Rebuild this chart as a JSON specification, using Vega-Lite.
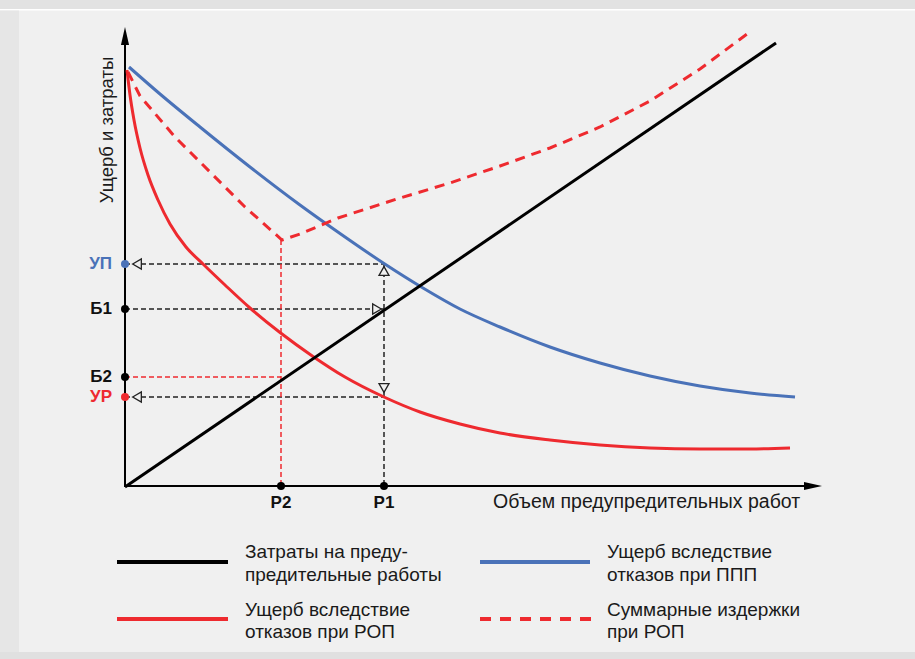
{
  "$schema": "https://vega.github.io/schema/vega-lite/v6.json",
  "width": 915,
  "height": 659,
  "padding": 0,
  "autosize": {"type": "none"},
  "background": "#f0f0f0",
  "config": {"view": {"stroke": null}},
  "datasets": {
    "frame": [
      {"part": "top", "x": -125, "x2": 790, "y": 478, "y2": 487},
      {"part": "topline", "x": -125, "x2": 790, "y": 476.5, "y2": 478},
      {"part": "left", "x": -125, "x2": -106, "y": -172, "y2": 476.5},
      {"part": "bottom", "x": -125, "x2": 790, "y": -172, "y2": -165}
    ],
    "cost": [{"x": 0, "y": 0}, {"x": 651, "y": 444}],
    "ppp": [
      {"x": 4, "y": 420}, {"x": 35, "y": 393}, {"x": 75, "y": 360}, {"x": 125, "y": 320},
      {"x": 175, "y": 282}, {"x": 215, "y": 253.5}, {"x": 259, "y": 223.5}, {"x": 298, "y": 199},
      {"x": 335, "y": 178}, {"x": 375, "y": 160}, {"x": 425, "y": 140}, {"x": 475, "y": 124},
      {"x": 525, "y": 111}, {"x": 575, "y": 101}, {"x": 625, "y": 94}, {"x": 670, "y": 90}
    ],
    "rop": [
      {"x": 2, "y": 417}, {"x": 5, "y": 392}, {"x": 9, "y": 367}, {"x": 15, "y": 339},
      {"x": 23, "y": 312}, {"x": 33, "y": 287}, {"x": 45, "y": 263}, {"x": 61, "y": 240},
      {"x": 78, "y": 223}, {"x": 100, "y": 202}, {"x": 125, "y": 179}, {"x": 155, "y": 154.5},
      {"x": 188, "y": 130.6}, {"x": 220, "y": 110}, {"x": 259, "y": 90}, {"x": 295, "y": 75},
      {"x": 335, "y": 63}, {"x": 375, "y": 54}, {"x": 425, "y": 47}, {"x": 475, "y": 42},
      {"x": 525, "y": 39}, {"x": 575, "y": 38}, {"x": 625, "y": 38}, {"x": 665, "y": 39}
    ],
    "total": [
      {"x": 3, "y": 415}, {"x": 15, "y": 391}, {"x": 50, "y": 350}, {"x": 85, "y": 315},
      {"x": 120, "y": 280}, {"x": 157, "y": 247}, {"x": 175, "y": 253}, {"x": 213, "y": 269},
      {"x": 275, "y": 289}, {"x": 325, "y": 304}, {"x": 375, "y": 321}, {"x": 425, "y": 339},
      {"x": 475, "y": 360}, {"x": 525, "y": 386}, {"x": 575, "y": 418}, {"x": 622, "y": 453}
    ],
    "guidesBlack": [
      {"name": "УП", "x": 0, "y": 223, "x2": 259, "y2": 223},
      {"name": "Б1", "x": 0, "y": 178, "x2": 259, "y2": 178},
      {"name": "УР", "x": 0, "y": 90, "x2": 259, "y2": 90},
      {"name": "P1", "x": 259, "y": 223, "x2": 259, "y2": 1}
    ],
    "guidesRed": [
      {"name": "Б2", "x": 0, "y": 110, "x2": 156, "y2": 110},
      {"name": "P2", "x": 156, "y": 247, "x2": 156, "y2": 1}
    ],
    "arrows": [
      {"dir": "triangle-left", "x": 12, "y": 223},
      {"dir": "triangle-left", "x": 12, "y": 90},
      {"dir": "triangle-right", "x": 252, "y": 178},
      {"dir": "triangle-up", "x": 259, "y": 216},
      {"dir": "triangle-down", "x": 259, "y": 99}
    ],
    "dotsBlack": [
      {"x": 0, "y": 178}, {"x": 0, "y": 110}, {"x": 156, "y": 1}, {"x": 259, "y": 1}
    ],
    "labelsY": [
      {"t": "УП", "x": -13, "y": 223, "c": "blue"},
      {"t": "Б1", "x": -13, "y": 178, "c": "black"},
      {"t": "Б2", "x": -13, "y": 110, "c": "black"},
      {"t": "УР", "x": -13, "y": 90, "c": "red"}
    ],
    "labelsX": [
      {"t": "P2", "x": 156, "y": -16},
      {"t": "P1", "x": 259, "y": -16}
    ],
    "legendText": [
      {"t": "Затраты на преду-", "x": 120, "y": -65},
      {"t": "предительные работы", "x": 120, "y": -88},
      {"t": "Ущерб вследствие", "x": 120, "y": -123},
      {"t": "отказов при РОП", "x": 120, "y": -145},
      {"t": "Ущерб вследствие", "x": 482, "y": -65},
      {"t": "отказов при ППП", "x": 482, "y": -88},
      {"t": "Суммарные издержки", "x": 482, "y": -123},
      {"t": "при РОП", "x": 482, "y": -145}
    ]
  },
  "encoding": {
    "x": {"field": "x", "type": "quantitative", "scale": {"domain": [-125, 790], "nice": false, "zero": false}, "axis": null},
    "y": {"field": "y", "type": "quantitative", "scale": {"domain": [-172, 487], "nice": false, "zero": false}, "axis": null}
  },
  "layer": [
    {"data": {"name": "frame"}, "transform": [{"filter": "datum.part === 'top'"}], "mark": {"type": "rect", "color": "#e2e2e2"}, "encoding": {"x2": {"field": "x2"}, "y2": {"field": "y2"}}},
    {"data": {"name": "frame"}, "transform": [{"filter": "datum.part === 'topline'"}], "mark": {"type": "rect", "color": "#ffffff"}, "encoding": {"x2": {"field": "x2"}, "y2": {"field": "y2"}}},
    {"data": {"name": "frame"}, "transform": [{"filter": "datum.part === 'left'"}], "mark": {"type": "rect", "color": "#e6e6e6"}, "encoding": {"x2": {"field": "x2"}, "y2": {"field": "y2"}}},
    {"data": {"name": "frame"}, "transform": [{"filter": "datum.part === 'bottom'"}], "mark": {"type": "rect", "color": "#e0e0e0"}, "encoding": {"x2": {"field": "x2"}, "y2": {"field": "y2"}}},

    {"data": {"values": [{"x": 0, "y": 0, "x2": 0, "y2": 447}, {"x": 0, "y": 1, "x2": 683, "y2": 1}]}, "mark": {"type": "rule", "color": "#000000", "strokeWidth": 2}, "encoding": {"x2": {"field": "x2"}, "y2": {"field": "y2"}}},
    {"data": {"values": [{"x": 0, "y": 451}]}, "mark": {"type": "point", "shape": "M-0.45,1L0,-1L0.45,1Z", "filled": true, "color": "#000000", "size": 324, "opacity": 1}},
    {"data": {"values": [{"x": 688, "y": 1}]}, "mark": {"type": "point", "shape": "M-1,-0.45L1,0L-1,0.45Z", "filled": true, "color": "#000000", "size": 324, "opacity": 1}},

    {"data": {"name": "guidesBlack"}, "mark": {"type": "rule", "color": "#222222", "strokeWidth": 1.5, "strokeDash": [5, 3]}, "encoding": {"x2": {"field": "x2"}, "y2": {"field": "y2"}}},
    {"data": {"name": "guidesRed"}, "mark": {"type": "rule", "color": "#ee2a2f", "strokeWidth": 1.5, "strokeDash": [5, 3]}, "encoding": {"x2": {"field": "x2"}, "y2": {"field": "y2"}}},

    {"data": {"name": "ppp"}, "mark": {"type": "line", "color": "#4a72b8", "strokeWidth": 3, "interpolate": "monotone"}, "encoding": {"order": {"field": "x"}}},
    {"data": {"name": "rop"}, "mark": {"type": "line", "color": "#ee2a2f", "strokeWidth": 3, "interpolate": "monotone"}, "encoding": {"order": {"field": "x"}}},
    {"data": {"name": "total"}, "mark": {"type": "line", "color": "#ee2a2f", "strokeWidth": 3, "strokeDash": [10, 7], "interpolate": "linear"}, "encoding": {"order": {"field": "x"}}},
    {"data": {"name": "cost"}, "mark": {"type": "line", "color": "#000000", "strokeWidth": 3}, "encoding": {"order": {"field": "x"}}},

    {"data": {"name": "arrows"}, "mark": {"type": "point", "filled": true, "fill": "#f0f0f0", "stroke": "#222222", "strokeWidth": 1.3, "size": 100, "opacity": 1, "fillOpacity": 1}, "encoding": {"shape": {"field": "dir", "type": "nominal", "scale": null}}},

    {"data": {"name": "dotsBlack"}, "mark": {"type": "circle", "color": "#000000", "size": 64, "opacity": 1}},
    {"data": {"values": [{"x": 0, "y": 223}]}, "mark": {"type": "circle", "color": "#4a72b8", "size": 64, "opacity": 1}},
    {"data": {"values": [{"x": 0, "y": 90}]}, "mark": {"type": "circle", "color": "#ee2a2f", "size": 64, "opacity": 1}},

    {"data": {"name": "labelsY"}, "mark": {"type": "text", "align": "right", "baseline": "middle", "font": "Liberation Sans", "fontSize": 17, "fontWeight": "bold"}, "encoding": {"text": {"field": "t"}, "color": {"field": "c", "type": "nominal", "scale": {"domain": ["blue", "black", "red"], "range": ["#4a72b8", "#111111", "#ee2a2f"]}, "legend": null}}},
    {"data": {"name": "labelsX"}, "mark": {"type": "text", "align": "center", "baseline": "middle", "font": "Liberation Sans", "fontSize": 17, "fontWeight": "bold", "color": "#111111"}, "encoding": {"text": {"field": "t"}}},
    {"data": {"values": [{"t": "Ущерб и затраты", "x": -18, "y": 357}]}, "mark": {"type": "text", "align": "center", "baseline": "middle", "angle": 270, "font": "Liberation Sans", "fontSize": 18.5, "color": "#1a1a1a"}, "encoding": {"text": {"field": "t"}}},
    {"data": {"values": [{"t": "Объем предупредительных работ", "x": 368, "y": -15}]}, "mark": {"type": "text", "align": "left", "baseline": "middle", "font": "Liberation Sans", "fontSize": 19.5, "color": "#1a1a1a"}, "encoding": {"text": {"field": "t"}}},

    {"data": {"values": [{"x": -8, "x2": 103, "y": -75}]}, "mark": {"type": "rule", "color": "#000000", "strokeWidth": 4}, "encoding": {"x2": {"field": "x2"}}},
    {"data": {"values": [{"x": -8, "x2": 103, "y": -132}]}, "mark": {"type": "rule", "color": "#ee2a2f", "strokeWidth": 4}, "encoding": {"x2": {"field": "x2"}}},
    {"data": {"values": [{"x": 355, "x2": 465, "y": -75}]}, "mark": {"type": "rule", "color": "#4a72b8", "strokeWidth": 4}, "encoding": {"x2": {"field": "x2"}}},
    {"data": {"values": [{"x": 355, "x2": 466, "y": -132}]}, "mark": {"type": "rule", "color": "#ee2a2f", "strokeWidth": 4, "strokeDash": [11, 9]}, "encoding": {"x2": {"field": "x2"}}},
    {"data": {"name": "legendText"}, "mark": {"type": "text", "align": "left", "baseline": "middle", "font": "Liberation Sans", "fontSize": 19, "color": "#1a1a1a"}, "encoding": {"text": {"field": "t"}}}
  ]
}
